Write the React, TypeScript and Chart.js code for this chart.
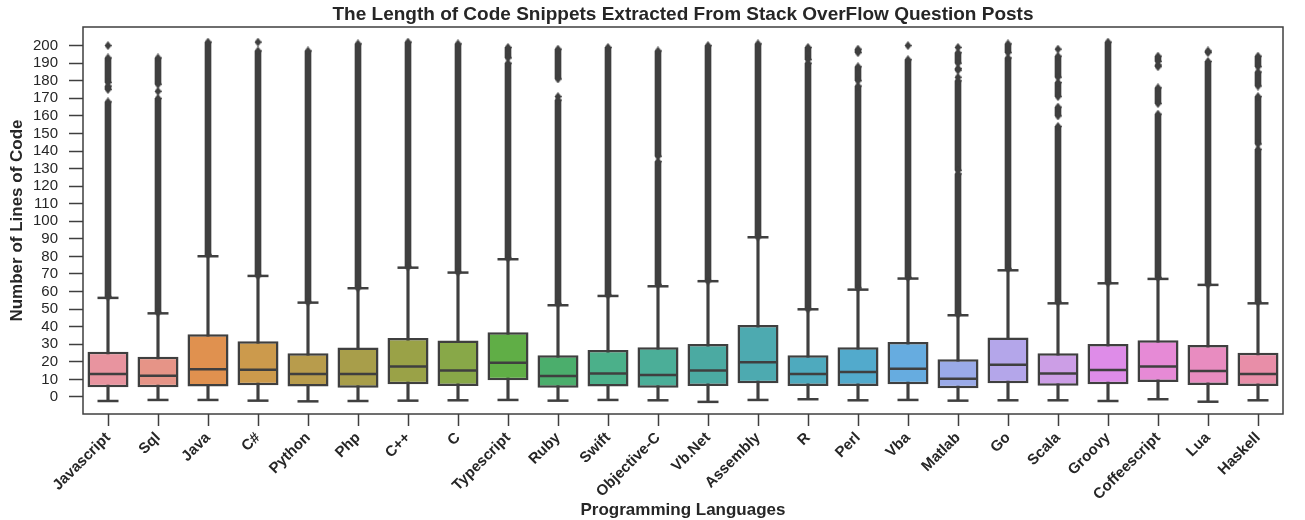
import React, { useEffect, useRef } from "react";
import { Chart, registerables } from "chart.js";

Chart.register(...registerables);

const languages = [
  "Javascript", "Sql", "Java", "C#", "Python", "Php", "C++", "C", "Typescript", "Ruby", "Swift", "Objective-C",
  "Vb.Net", "Assembly", "R", "Perl", "Vba", "Matlab", "Go", "Scala", "Groovy", "Coffeescript", "Lua", "Haskell",
];

const q1 = [5.5, 5.5, 5.9, 6.7, 5.9, 5.3, 7.2, 6.3, 9.5, 5.3, 5.9, 5.3, 6.3, 7.8, 6.3, 6.3, 7.2, 4.9, 7.8, 6.4, 7.2, 8.5, 6.8, 6.3];
const median = [13.1, 12.1, 15.8, 15.5, 13.1, 13.1, 17.3, 15.0, 19.5, 12.0, 13.3, 12.5, 15.0, 19.8, 13.1, 14.2, 16.1, 10.4, 18.4, 13.3, 15.4, 17.3, 14.8, 13.1];
const q3 = [25.8, 22.9, 35.7, 31.7, 24.9, 28.1, 33.6, 32.1, 36.8, 23.7, 26.8, 28.3, 30.2, 41.0, 23.7, 28.3, 31.3, 21.5, 33.8, 24.9, 30.2, 32.3, 29.6, 25.2];
const whiskerLow = [-2.3, -1.7, -1.7, -2.1, -2.5, -2.3, -2.1, -1.9, -1.7, -2.1, -1.7, -1.9, -2.8, -1.7, -1.3, -1.9, -1.7, -2.1, -1.9, -1.9, -2.3, -1.3, -2.7, -1.9];
const whiskerHigh = [56.4, 47.6, 80.1, 68.9, 53.7, 61.9, 73.6, 70.8, 78.4, 52.2, 57.5, 63.0, 65.9, 90.9, 49.9, 61.1, 67.4, 46.5, 72.1, 53.3, 64.7, 67.2, 63.8, 53.3];

// outlier runs: [from, to] stretches of stacked outlier diamonds per language
const outlierRuns: number[][][] = [
  [[57, 168], [175, 177], [179, 193], [200, 200]],
  [[48, 170], [174, 174], [178, 193]],
  [[81, 202]],
  [[69, 197], [202, 202]],
  [[54, 197]],
  [[62, 201]],
  [[74, 202]],
  [[71, 201]],
  [[79, 190], [193, 199]],
  [[53, 169], [171, 171], [181, 198]],
  [[58, 199]],
  [[64, 134], [137, 197]],
  [[66, 200]],
  [[91, 201]],
  [[50, 190], [192, 199]],
  [[62, 177], [180, 188], [196, 198]],
  [[68, 192], [200, 200]],
  [[47, 127], [129, 180], [182, 182], [186, 187], [190, 196], [199, 199]],
  [[73, 193], [196, 201]],
  [[54, 154], [160, 165], [171, 179], [182, 194], [198, 198]],
  [[65, 202]],
  [[68, 161], [167, 176], [188, 189], [191, 194]],
  [[64, 191], [196, 197]],
  [[54, 141], [144, 171], [177, 185], [188, 194]],
];

const yTicks = [0, 10, 20, 30, 40, 50, 60, 70, 80, 90, 100, 110, 120, 130, 140, 150, 160, 170, 180, 190, 200];

const boxColors = [
  "#e8949f", "#e69487", "#e0914f", "#cc9a4c", "#b89c4c", "#a89e4a", "#9aa247", "#88a848", "#60ae46", "#4bae6c",
  "#4bb08a", "#4bae98", "#4baaa2", "#4daab0", "#4eaabe", "#52aacc", "#66ace0", "#9aaae8", "#b4a6ea", "#cc9ee6",
  "#de8ce8", "#e68ad6", "#e88cc0", "#e88ea8",
];

const TITLE = "The Length of Code Snippets Extracted From Stack OverFlow Question Posts";
const X_TITLE = "Programming Languages";
const Y_TITLE = "Number of Lines of Code";

const DARK = "#3f3f3f";
const TEXT = "#262626";
const FONT = "'Liberation Sans', Arial, sans-serif";

function makeDiamond(): HTMLCanvasElement {
  const c = document.createElement("canvas");
  c.width = 7;
  c.height = 9;
  const g = c.getContext("2d")!;
  g.fillStyle = DARK;
  g.beginPath();
  g.moveTo(3.5, 0);
  g.lineTo(7, 4.5);
  g.lineTo(3.5, 9);
  g.lineTo(0, 4.5);
  g.closePath();
  g.fill();
  return c;
}

const framePlugin = {
  id: "frame",
  afterDraw(chart: any) {
    const { ctx, chartArea } = chart;
    const { left, top, right, bottom } = chartArea;
    ctx.save();
    ctx.strokeStyle = DARK;
    ctx.lineWidth = 1.5;
    ctx.strokeRect(left, top, right - left, bottom - top);
    ctx.restore();
  },
};

export default function App() {
  const ref = useRef<HTMLCanvasElement>(null);

  useEffect(() => {
    document.body.style.margin = "0";
    const diamond = makeDiamond();
    const maxRuns = Math.max(...outlierRuns.map((r) => r.length));
    const runDatasets: any[] = [];
    for (let k = 0; k < maxRuns; k++) {
      runDatasets.push({
        type: "bar",
        data: outlierRuns.map((r) => (r[k] ? r[k] : null)),
        backgroundColor: DARK,
        borderWidth: 0,
        barThickness: 6,
        grouped: false,
        order: 1,
      });
    }
    const endPoints: any[] = [];
    outlierRuns.forEach((runs, i) => {
      runs.forEach(([lo, hi]) => {
        endPoints.push({ x: languages[i], y: lo });
        if (hi !== lo) endPoints.push({ x: languages[i], y: hi });
      });
    });

    const chart = new Chart(ref.current!, {
      type: "bar",
      data: {
        labels: languages,
        datasets: [
          {
            type: "line",
            data: median,
            showLine: false,
            pointStyle: "line",
            pointRadius: 19.5,
            pointBorderWidth: 2.5,
            pointBorderColor: DARK,
            order: 0,
          } as any,
          {
            type: "line",
            data: whiskerHigh,
            showLine: false,
            pointStyle: "line",
            pointRadius: 10.5,
            pointBorderWidth: 2.5,
            pointBorderColor: DARK,
            order: 0,
          },
          {
            type: "line",
            data: whiskerLow,
            showLine: false,
            pointStyle: "line",
            pointRadius: 10.5,
            pointBorderWidth: 2.5,
            pointBorderColor: DARK,
            order: 0,
          },
          {
            type: "line",
            data: endPoints,
            showLine: false,
            pointStyle: diamond,
            pointRadius: 4,
            order: 0,
          },
          ...runDatasets,
          {
            type: "bar",
            data: languages.map((_, i) => [q1[i], q3[i]]),
            backgroundColor: boxColors,
            borderColor: DARK,
            borderWidth: 2.5,
            borderSkipped: false,
            barPercentage: 0.82,
            categoryPercentage: 1,
            grouped: false,
            order: 2,
          },
          {
            type: "bar",
            data: languages.map((_, i) => [whiskerLow[i], whiskerHigh[i]]),
            backgroundColor: DARK,
            borderWidth: 0,
            barThickness: 2.5,
            grouped: false,
            order: 3,
          },
        ],
      },
      options: {
        responsive: false,
        animation: false,
        events: [],
        layout: { padding: { left: 0, right: 3.6, top: 0, bottom: 0 } },
        plugins: {
          legend: { display: false },
          tooltip: { enabled: false },
          title: {
            display: true,
            fullSize: false,
            text: TITLE,
            color: TEXT,
            font: { family: FONT, size: 19, weight: "bold", lineHeight: 1.1 },
            padding: { top: 4, bottom: 2.1 },
          },
        },
        scales: {
          x: {
            type: "category",
            offset: true,
            afterFit: (s: any) => {
              s.height = 106;
            },
            grid: {
              display: true,
              offset: false,
              drawOnChartArea: false,
              drawTicks: true,
              tickLength: 12,
              tickColor: DARK,
              tickWidth: 1.5,
            },
            border: { display: false },
            ticks: {
              color: TEXT,
              font: { family: FONT, size: 15, weight: "bold" },
              minRotation: 45,
              maxRotation: 45,
              autoSkip: false,
              padding: 3,
            },
            title: {
              display: true,
              text: X_TITLE,
              color: TEXT,
              font: { family: FONT, size: 17, weight: "bold", lineHeight: 1.1 },
              padding: { top: 0, bottom: 0 },
            },
          },
          y: {
            type: "linear",
            min: -9.7,
            max: 210.6,
            afterFit: (s: any) => {
              s.width = 83;
            },
            afterBuildTicks: (s: any) => {
              s.ticks = yTicks.map((v) => ({ value: v }));
            },
            grid: {
              display: true,
              drawOnChartArea: false,
              drawTicks: true,
              tickLength: 14,
              tickColor: DARK,
              tickWidth: 1.5,
            },
            border: { display: false },
            ticks: {
              color: TEXT,
              font: { family: FONT, size: 15 },
              padding: 11,
              autoSkip: false,
              callback: (v: any) => String(v),
            },
            title: {
              display: true,
              text: Y_TITLE,
              color: TEXT,
              font: { family: FONT, size: 17, weight: "bold" },
              padding: { top: 7, bottom: 0 },
            },
          },
        },
      },
      plugins: [framePlugin],
    } as any);
    return () => chart.destroy();
  }, []);

  return (
    <div style={{ width: 1305, height: 520 }}>
      <canvas ref={ref} width={1305} height={520} style={{ display: "block" }} />
    </div>
  );
}
